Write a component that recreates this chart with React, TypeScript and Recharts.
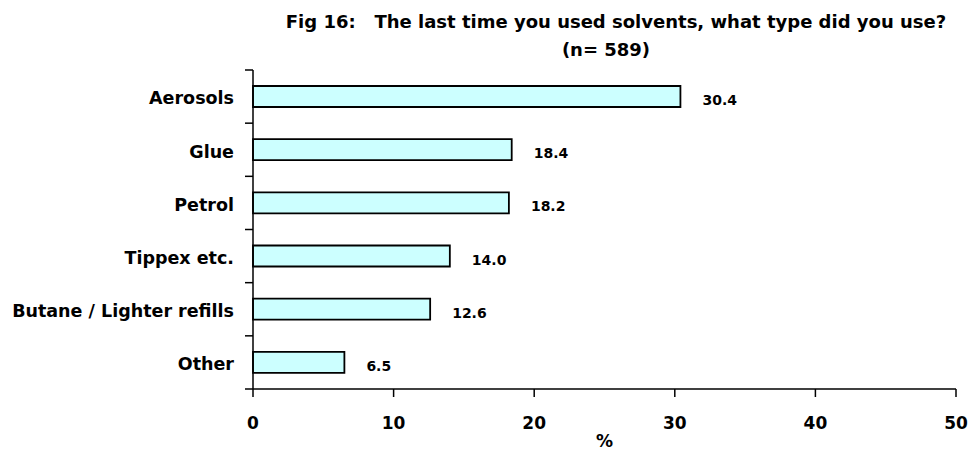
import React from "react";
import { Bar, BarChart, LabelList, XAxis, YAxis } from "recharts";

const CATEGORIES = [
  "Aerosols",
  "Glue",
  "Petrol",
  "Tippex etc.",
  "Butane / Lighter refills",
  "Other",
];
const PERCENTS = [30.4, 18.4, 18.2, 14.0, 12.6, 6.5];
const X_TICKS = [0, 10, 20, 30, 40, 50];

const TITLE = "Fig 16:   The last time you used solvents, what type did you use?";
const SUBTITLE = "(n= 589)";

const data = CATEGORIES.map((name, i) => ({ name, value: PERCENTS[i] }));

const WIDTH = 968;
const HEIGHT = 450;
const FONT = "'DejaVu Sans', 'Liberation Sans', Arial, sans-serif";
const Y_TICK_SIZE = 8;
const Y_TICK_MARGIN = 11;

/** category label plus Excel-style tick marks on band boundaries */
function CategoryTick(props: any) {
  const { x, y, payload, index, visibleTicksCount } = props;
  const half = payload?.offset ?? 0;
  const axisX = x + Y_TICK_SIZE + Y_TICK_MARGIN;
  const isLast = index === visibleTicksCount - 1;
  return (
    <g>
      <text
        x={x}
        y={y}
        dy="0.45em"
        textAnchor="end"
        fontFamily={FONT}
        fontWeight="bold"
        fontSize={17.5}
        fill="#000"
      >
        {payload.value}
      </text>
      <line x1={axisX - Y_TICK_SIZE} x2={axisX} y1={y - half} y2={y - half} stroke="#000" strokeWidth={1.5} />
      {isLast && (
        <line x1={axisX - Y_TICK_SIZE} x2={axisX} y1={y + half} y2={y + half} stroke="#000" strokeWidth={1.5} />
      )}
    </g>
  );
}

function ValueLabel(props: any) {
  const { x, y, width, height, value } = props;
  return (
    <text
      x={x + width + 22}
      y={y + height / 2 + 3.5}
      dy="0.36em"
      fontFamily={FONT}
      fontWeight="bold"
      fontSize={14}
      fill="#000"
    >
      {Number(value).toFixed(1)}
    </text>
  );
}

export default function App() {
  return (
    <div style={{ position: "relative", width: WIDTH, height: HEIGHT }}>
      <style>{"body { margin: 0; overflow: hidden; }"}</style>
      <BarChart
        width={WIDTH}
        height={HEIGHT}
        data={data}
        layout="vertical"
        margin={{ top: 70, right: 12, bottom: 0, left: 0 }}
        barSize={21}
      >
        <XAxis
          type="number"
          domain={[0, 50]}
          ticks={X_TICKS}
          interval={0}
          height={61}
          tickSize={8}
          tickMargin={20}
          axisLine={{ stroke: "#000", strokeWidth: 1.5 }}
          tickLine={{ stroke: "#000", strokeWidth: 1.5 }}
          tick={{ fill: "#000", fontFamily: FONT, fontWeight: "bold", fontSize: 17 }}
          label={{
            value: "%",
            position: "insideBottom",
            offset: 3,
            fill: "#000",
            fontFamily: FONT,
            fontWeight: "bold",
            fontSize: 17,
          }}
        />
        <YAxis
          type="category"
          dataKey="name"
          width={253}
          interval={0}
          tickSize={Y_TICK_SIZE}
          tickMargin={Y_TICK_MARGIN}
          axisLine={{ stroke: "#000", strokeWidth: 1.5 }}
          tickLine={false}
          tick={<CategoryTick />}
        />
        <Bar
          dataKey="value"
          fill="#CCFFFF"
          stroke="#000"
          strokeWidth={1.8}
          isAnimationActive={false}
        >
          <LabelList dataKey="value" content={<ValueLabel />} />
        </Bar>
      </BarChart>
      <svg
        width={WIDTH}
        height={HEIGHT}
        style={{ position: "absolute", left: 0, top: 0, pointerEvents: "none" }}
      >
        <text
          x={616}
          y={28}
          textAnchor="middle"
          fontFamily={FONT}
          fontWeight="bold"
          fontSize={18}
          fill="#000"
          style={{ whiteSpace: "pre" }}
        >
          {TITLE}
        </text>
        <text
          x={606}
          y={56}
          textAnchor="middle"
          fontFamily={FONT}
          fontWeight="bold"
          fontSize={18}
          fill="#000"
        >
          {SUBTITLE}
        </text>
      </svg>
    </div>
  );
}
